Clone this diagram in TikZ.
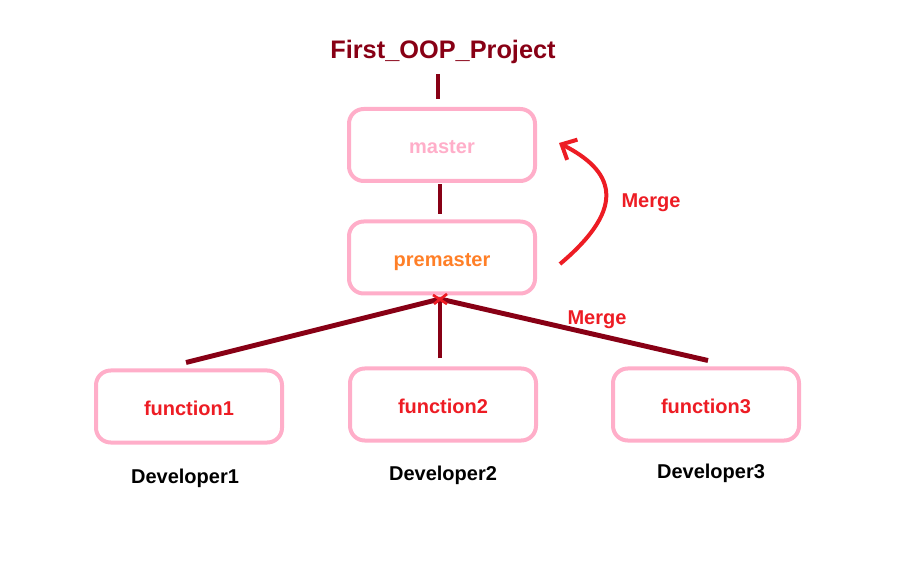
\documentclass[tikz,border=0pt]{standalone}
\usepackage{fontspec}
\setmainfont{Liberation Sans}
\usetikzlibrary{arrows.meta}
\definecolor{darkredc}{RGB}{136,0,21}
\definecolor{pinkc}{RGB}{255,174,201}
\definecolor{redc}{RGB}{237,28,36}
\definecolor{orangec}{RGB}{255,127,39}

\begin{document}
\begin{tikzpicture}[x=0.75pt, y=-0.75pt,
    every node/.style={font=\bfseries\fontsize{15}{18}\selectfont},
    fnbox/.style={draw=pinkc, line width=3pt, rounded corners=11pt,
                  minimum width=139.5pt, minimum height=54pt,
                  text height=13pt, text depth=0pt},
    link/.style={draw=darkredc, line width=3.7pt},
    mergeline/.style={draw=redc, line width=3pt}]
    \useasboundingbox (0,0) rectangle (907,570);

    % Nodes
    \node[text=darkredc, font=\bfseries\fontsize{19}{22}\selectfont] (title) at (443,52) {First\_OOP\_Project};
    \node[fnbox, text=pinkc] (master) at (442,145) {master};
    \node[fnbox, text=orangec] (premaster) at (442,257.5) {premaster};
    \node[fnbox, text=redc] (f1) at (189,406.5) {function1};
    \node[fnbox, text=redc] (f2) at (443,404.5) {function2};
    \node[fnbox, text=redc] (f3) at (706,404.5) {function3};

    \node (dev1) at (185,478) {Developer1};
    \node (dev2) at (443,475) {Developer2};
    \node (dev3) at (711,473) {Developer3};

    \node[text=redc] (merge1) at (651,203) {Merge};
    \node[text=redc] (merge2) at (597,320) {Merge};

    \coordinate (join) at (440,299);
    \coordinate (upfrom) at (560,264);
    \coordinate (upto) at (559,143);

    % Edges
    \draw[link, shorten <=4pt, shorten >=6pt] (438,0 |- title.south) -- (438,0 |- master.north);
    \draw[link, shorten <=1pt, shorten >=4pt] (440,0 |- master.south) -- (440,0 |- premaster.north);
    \draw[link] ([shift={(-3,-6)}]f1.north) -- (join);
    \draw[link, shorten <=6pt] (f2.north -| join) -- (join);
    \draw[link] ([shift={(2,-6)}]f3.north) -- (join);

    % Merge marks
    \draw[redc, line width=2pt] (join) +(-7,-4) -- +(7,5) (join) +(-6,5) -- +(7,-5);
    \draw[mergeline, -{Straight Barb[length=9pt, width=17pt]}]
        (upfrom) .. controls (630,205) and (612,170) .. (upto);
\end{tikzpicture}
\end{document}
